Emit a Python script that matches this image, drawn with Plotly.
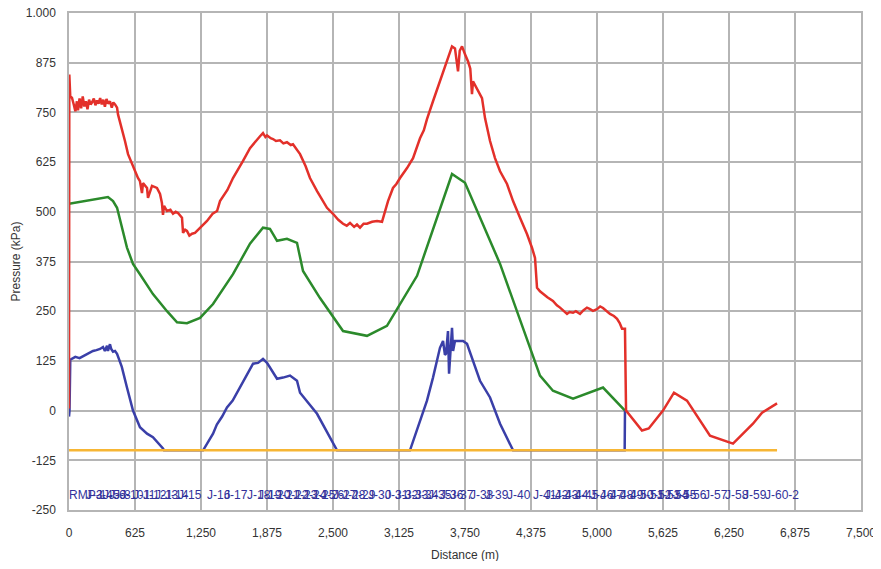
import plotly.graph_objects as go

# ---- data (distance in m, pressure in kPa) ----
red_d = [0, 3, 12, 28, 45, 60, 75, 85, 100, 115, 130, 145, 160, 175, 190, 205, 220, 235, 250, 265,
         280, 295, 310, 325, 340, 355, 370, 388, 405, 420, 436, 455, 464, 502, 530, 559, 597, 625,
         653, 672, 691, 701, 739, 748, 786, 833, 862, 880, 890, 900, 928, 960, 985, 1010, 1032, 1070,
         1080, 1100, 1117, 1140, 1165, 1193, 1241, 1307, 1360, 1402, 1430, 1500, 1553, 1600, 1648,
         1714, 1750, 1780, 1809, 1837, 1860, 1875, 1910, 1932, 1960, 1998, 2030, 2064, 2100, 2121,
         2150, 2169, 2188, 2240, 2282, 2349, 2400, 2443, 2500, 2550, 2595, 2630, 2661, 2700, 2727,
         2756, 2790, 2822, 2870, 2917, 2964, 2993, 3021, 3068, 3100, 3135, 3201, 3258, 3290, 3324,
         3360, 3390, 3447, 3513, 3580, 3627, 3655, 3670, 3684, 3700, 3722, 3750, 3779, 3800, 3816,
         3826, 3850, 3873, 3911, 3940, 3987, 4034, 4082, 4148, 4205, 4271, 4337, 4385, 4413, 4432,
         4460, 4489, 4530, 4583, 4620, 4650, 4690, 4716, 4740, 4773, 4800, 4839, 4870, 4905, 4930,
         4962, 5000, 5030, 5057, 5090, 5123, 5160, 5190, 5215, 5237, 5265, 5275, 5426, 5490, 5625,
         5729, 5852, 6070, 6288, 6477, 6563, 6705]
red_p = [5, 845, 790, 787, 770, 753, 778, 755, 785, 760, 790, 765, 778, 758, 782, 770, 776, 785, 768, 780,
         772, 786, 770, 782, 764, 784, 772, 778, 762, 775, 770, 762, 745, 710, 678, 645, 620, 602,
         585, 577, 547, 572, 560, 535, 565, 560, 545, 522, 492, 515, 502, 505, 495, 500, 497, 485,
         447, 455, 452, 440, 445, 447, 460, 477, 495, 502, 527, 555, 585, 605, 628,
         660, 672, 683, 690, 698, 688, 692, 685, 683, 678, 680, 672, 675, 668, 670,
         660, 653, 645, 615, 585, 552, 530, 510, 495, 480, 470, 465, 472, 462, 468,
         460, 470, 470, 475, 477, 475, 502, 527, 560, 570, 585, 610, 635, 660, 685,
         705, 733, 778, 828, 878, 916, 911, 880, 853, 905, 916, 896, 878, 860, 796,
         828, 815, 803, 786, 735, 678, 635, 602, 570, 527, 485, 444, 409, 384, 309,
         300, 294, 285, 276, 265, 259, 250, 243, 248, 246, 250, 243, 252, 259, 256,
         251, 255, 262, 258, 250, 243, 238, 231, 220, 206, 206, 0, -50, -45, 0,
         45, 25, -63, -83, -33, -5, 18]

green_d = [0, 369, 417, 455, 549, 606, 672, 795, 928, 1023, 1117, 1241, 1364, 1553, 1714, 1837, 1903,
           1970, 2064, 2159, 2216, 2377, 2595, 2822, 3011, 3296, 3627, 3750, 4082, 4460, 4583, 4773,
           5057, 5265]
green_p = [520, 537, 527, 510, 410, 369, 343, 293, 250, 222, 220, 233, 268, 343, 420, 460, 457,
           427, 432, 422, 351, 283, 200, 188, 213, 339, 595, 573, 369, 88, 50, 30,
           58, 0]

blue_d = [0, 5, 12, 28, 60, 100, 133, 170, 200, 227, 260, 294, 322, 340, 360, 369, 388, 400, 417,
          436, 455, 500, 549, 606, 672, 739, 795, 843, 890, 900, 1270, 1364, 1400, 1450, 1496, 1550,
          1619, 1680, 1743, 1790, 1837, 1875, 1970, 2027, 2093, 2159, 2188, 2349, 2500, 2538, 3229,
          3296, 3390, 3447, 3513, 3542, 3560, 3570, 3589, 3599, 3627, 3637, 3655, 3731, 3769, 3892,
          3987, 4082, 4205, 5262, 5265]
blue_p = [-15, 0, 128, 130, 135, 132, 137, 142, 148, 150, 152, 155, 160, 150, 163, 150, 167, 155, 148,
          150, 143, 110, 58, 0, -42, -58, -67, -80, -95, -100, -100, -58, -35, -15, 8, 25,
          58, 90, 118, 120, 130, 120, 80, 83, 88, 75, 45, -8, -83, -100, -100,
          -50, 25, 83, 158, 175, 140, 143, 200, 93, 208, 150, 175, 175, 168, 75,
          33, -33, -100, -100, 0]

orange_d = [0, 6705]
orange_p = [-100, -100]

node_names = ["RMP-1", "J-3", "J-4", "J-5", "J-6", "J-8", "J-10", "J-11", "J-12", "J-13", "J-14", "J-15",
              "J-16", "J-17", "J-18", "J-19", "J-20", "J-21", "J-22", "J-23", "J-24", "J-25", "J-26",
              "J-27", "J-28", "J-29", "J-30", "J-31", "J-32", "J-33", "J-34", "J-35", "J-36", "J-37",
              "J-38", "J-39", "J-40", "J-41", "J-42", "J-43", "J-44", "J-45", "J-46", "J-47", "J-48",
              "J-49", "J-50", "J-51", "J-52", "J-53", "J-54", "J-55", "J-56", "J-57", "J-58", "J-59",
              "J-60-2"]
node_d = [0, 161, 256, 322, 379, 426, 483, 606, 701, 814, 909, 1032,
          1307, 1468, 1686, 1790, 1875, 1960, 2046, 2131, 2216, 2301, 2386,
          2500, 2585, 2680, 2832, 2993, 3087, 3182, 3277, 3400, 3513, 3608,
          3797, 3940, 4148, 4394, 4508, 4602, 4697, 4792, 4934, 5029, 5123,
          5218, 5313, 5407, 5483, 5568, 5644, 5720, 5815, 6013, 6212, 6383,
          6591]
node_label_p = -216

x_ticks = [0, 625, 1250, 1875, 2500, 3125, 3750, 4375, 5000, 5625, 6250, 6875, 7500]
x_ticktext = ["0", "625", "1,250", "1,875", "2,500", "3,125", "3,750", "4,375", "5,000",
              "5,625", "6,250", "6,875", "7,500"]
y_ticks = [-250, -125, 0, 125, 250, 375, 500, 625, 750, 875, 1000]
y_ticktext = ["-250", "-125", "0", "125", "250", "375", "500", "625", "750", "875", "1.000"]

fig = go.Figure()
fig.add_trace(go.Scatter(x=green_d, y=green_p, mode="lines",
                         line=dict(color="#2b8a2b", width=2.5), showlegend=False))
fig.add_trace(go.Scatter(x=blue_d, y=blue_p, mode="lines",
                         line=dict(color="#3a3fa8", width=2.5), showlegend=False))
fig.add_trace(go.Scatter(x=red_d, y=red_p, mode="lines",
                         line=dict(color="#e3302a", width=2.5), showlegend=False))
fig.add_trace(go.Scatter(x=orange_d, y=orange_p, mode="lines",
                         line=dict(color="#f7b634", width=2.5), showlegend=False))
fig.add_trace(go.Scatter(x=node_d, y=[node_label_p] * len(node_d), mode="text",
                         text=node_names, textposition="middle right",
                         textfont=dict(family="Liberation Sans, Arial", size=12, color="#32329a"),
                         showlegend=False, hoverinfo="skip"))

# page body has an 8px default margin: size the figure to fit inside the window
grid = "#b5b5b5"
fig.update_layout(
    width=873, height=553,
    margin=dict(l=61, r=20, t=5, b=51),
    paper_bgcolor="white", plot_bgcolor="white",
    font=dict(family="Liberation Sans, Arial", size=12, color="#333333"),
    xaxis=dict(range=[0, 7500], tickvals=x_ticks, ticktext=x_ticktext, automargin=False,
               showgrid=True, gridcolor=grid, gridwidth=1.5, zeroline=False,
               showline=True, linecolor=grid, linewidth=1.5, mirror=True,
               ticks="", ticklabelstandoff=11, ticklabeloverflow="allow"),
    yaxis=dict(range=[-250, 1000], tickvals=y_ticks, ticktext=y_ticktext, automargin=False,
               showgrid=True, gridcolor=grid, gridwidth=1.5, zeroline=False,
               showline=True, linecolor=grid, linewidth=1.5, mirror=True,
               ticks="", ticklabelstandoff=9, ticklabeloverflow="allow"),
    annotations=[
        dict(text="Distance (m)", xref="paper", yref="paper", x=0.5, y=0,
             yshift=-45, showarrow=False, font=dict(size=12, color="#333333"),
             xanchor="center", yanchor="middle"),
        dict(text="Pressure (kPa)", xref="paper", yref="paper", x=0, y=0.5,
             xshift=-54, showarrow=False, textangle=-90, font=dict(size=12, color="#333333"),
             xanchor="center", yanchor="middle"),
    ],
)

fig.write_html("out.html")
